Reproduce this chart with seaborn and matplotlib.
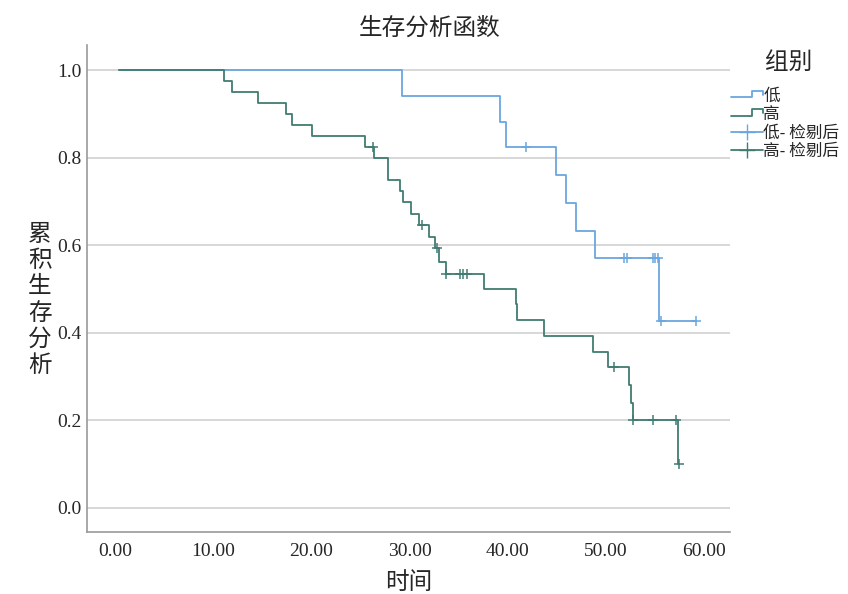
import pandas as pd
import seaborn as sns
import matplotlib
matplotlib.use("Agg")
import matplotlib.pyplot as plt
from matplotlib.lines import Line2D
from matplotlib.legend_handler import HandlerBase

# data: step points (time, survival) for each group
low_times = [0.4, 29.2, 39.2, 39.8, 44.9, 45.9, 46.9, 48.9, 55.4, 59.2]
low_surv = [1.0, 0.941, 0.882, 0.824, 0.760, 0.697, 0.633, 0.570, 0.428, 0.428]
low_cens_times = [41.9, 51.8, 52.1, 54.8, 55.0, 55.3, 55.6, 59.2]
low_cens_surv = [0.824, 0.570, 0.570, 0.570, 0.570, 0.570, 0.428, 0.428]

high_times = [0.4, 11.1, 11.9, 14.6, 17.4, 18.0, 20.1, 25.5, 26.4, 27.8, 29.0, 29.3,
              30.1, 31.0, 32.0, 32.6, 33.0, 33.7, 37.6, 40.8, 40.9, 43.7, 48.7, 50.2,
              52.3, 52.5, 52.7, 57.3, 57.4]
high_surv = [1.0, 0.975, 0.950, 0.925, 0.900, 0.875, 0.850, 0.825, 0.799, 0.749, 0.724,
             0.698, 0.671, 0.646, 0.619, 0.593, 0.562, 0.534, 0.499, 0.465, 0.429, 0.393,
             0.355, 0.321, 0.281, 0.239, 0.201, 0.100, 0.100]
high_cens_times = [26.3, 31.3, 32.8, 33.7, 35.1, 35.4, 35.8, 50.8, 52.7, 54.8, 57.1, 57.4]
high_cens_surv = [0.825, 0.646, 0.593, 0.534, 0.534, 0.534, 0.534, 0.321, 0.201, 0.201, 0.201, 0.100]

groups = ["低", "高"]
legend_labels = ["低", "高", "低- 检剔后", "高- 检剔后"]
x_ticks = [0, 10, 20, 30, 40, 50, 60]
y_ticks = [0.0, 0.2, 0.4, 0.6, 0.8, 1.0]

colors = {"低": "#6aa6df", "高": "#417c72"}

curves = pd.concat([
    pd.DataFrame({"time": low_times, "surv": low_surv, "group": "低"}),
    pd.DataFrame({"time": high_times, "surv": high_surv, "group": "高"}),
], ignore_index=True)
cens = pd.concat([
    pd.DataFrame({"time": low_cens_times, "surv": low_cens_surv, "group": "低"}),
    pd.DataFrame({"time": high_cens_times, "surv": high_cens_surv, "group": "高"}),
], ignore_index=True)

sns.set_style("white")
plt.rcParams["font.family"] = ["Noto Sans CJK SC", "DejaVu Sans"]

fig = plt.figure(figsize=(8.48, 5.94), dpi=100)
ax = fig.add_axes([0.1026, 0.1044, 0.758, 0.8196])

# horizontal reference lines at the y ticks
for y in y_ticks:
    ax.axhline(y, color="#d4d4d4", lw=1.3, zorder=0)

for g in groups:
    sub = curves[curves["group"] == g]
    sns.lineplot(data=sub, x="time", y="surv", color=colors[g], estimator=None, sort=False,
                 drawstyle="steps-post", lw=1.3, ax=ax, legend=False)
    csub = cens[cens["group"] == g]
    sns.scatterplot(data=csub, x="time", y="surv", color=colors[g], marker="+", s=60,
                    linewidth=1.1, ax=ax, legend=False, zorder=3)

ax.set_xlim(-2.85, 62.6)
ax.set_ylim(-0.055, 1.057)
ax.set_xticks(x_ticks)
ax.set_xticklabels([f"{v:.2f}" for v in x_ticks], fontfamily="Liberation Serif", fontsize=14)
ax.set_yticks(y_ticks)
ax.set_yticklabels([f"{v:.1f}" for v in y_ticks], fontfamily="Liberation Serif", fontsize=14)
ax.tick_params(axis="y", length=0, pad=4)
ax.tick_params(axis="x", length=0, pad=8)
for s in ["top", "right"]:
    ax.spines[s].set_visible(False)
for s in ["left", "bottom"]:
    ax.spines[s].set_color("#9a9a9a")
    ax.spines[s].set_linewidth(1.2)

ax.set_xlabel("时间", fontsize=17, labelpad=8)
ax.set_ylabel("")
fig.text(0.047, 0.495, "累\n积\n生\n存\n分\n析", fontsize=17, ha="center", va="center",
         linespacing=1.18)
fig.text(0.507, 0.953, "生存分析函数", fontsize=17, ha="center", va="center")


class HandlerStep(HandlerBase):
    def create_artists(self, legend, orig_handle, xdescent, ydescent, width, height, fontsize, trans):
        x0, y0 = -xdescent, -ydescent
        xs = [x0, x0 + width * 0.65, x0 + width * 0.65, x0 + width, x0 + width]
        ys = [y0 + height * 0.3, y0 + height * 0.3, y0 + height * 0.85, y0 + height * 0.85, y0 + height * 0.5]
        ln = Line2D(xs, ys, color=orig_handle.get_color(), lw=1.3, transform=trans)
        return [ln]


h_low = Line2D([], [], color=colors["低"])
h_high = Line2D([], [], color=colors["高"])
c_low = Line2D([], [], color=colors["低"], marker="+", markersize=11, lw=1.3)
c_high = Line2D([], [], color=colors["高"], marker="+", markersize=11, lw=1.3)
fig.text(0.930, 0.895, "组别", fontsize=17, ha="center", va="center")
fig.legend([h_low, h_high, c_low, c_high], legend_labels,
           loc="upper left", bbox_to_anchor=(0.862, 0.852), frameon=False,
           fontsize=12, handlelength=1.9, handletextpad=0.05, labelspacing=0.08,
           borderaxespad=0, borderpad=0,
           handler_map={h_low: HandlerStep(), h_high: HandlerStep()})

fig.savefig("out.png", dpi=100)
